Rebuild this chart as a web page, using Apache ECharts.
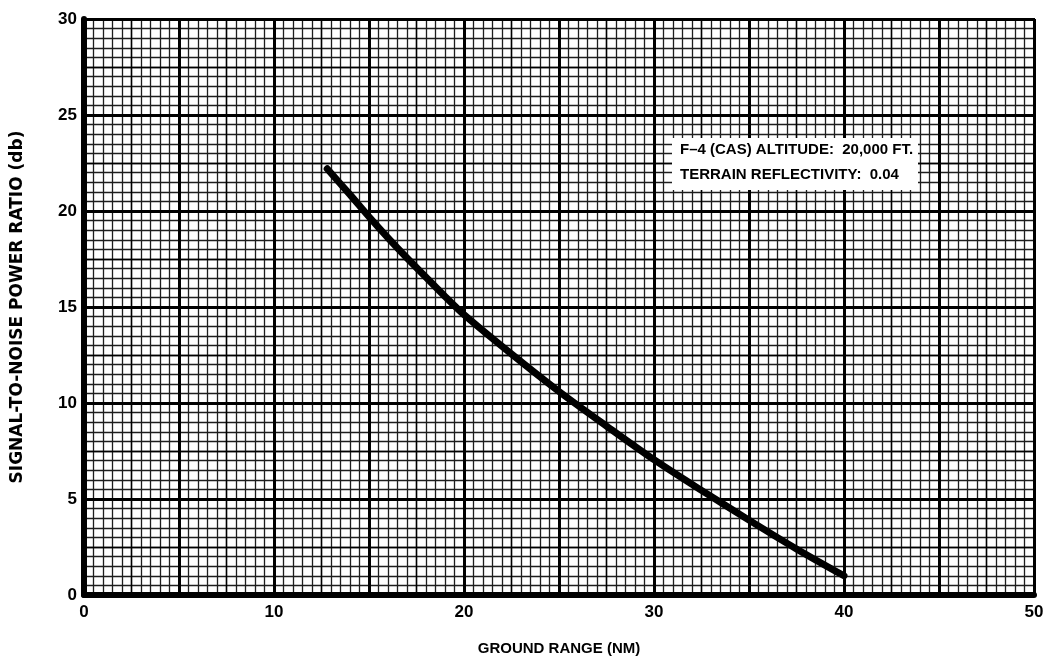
<!DOCTYPE html>
<html>
<head>
<meta charset="utf-8">
<script src="https://cdn.jsdelivr.net/npm/echarts@6/dist/echarts.min.js"></script>
<style>html,body{margin:0;padding:0;background:#fff}#c{width:1057px;height:664px}</style>
</head>
<body>
<div id="c"></div>
<script>
const groundRange = [12.8, 14, 15, 16, 17, 18, 19, 20, 22.5, 25, 27.5, 30, 32.5, 35, 37.5, 40];
const snrDb       = [22.2, 20.85, 19.7, 18.6, 17.55, 16.55, 15.55, 14.6, 12.55, 10.6, 8.8, 7.05, 5.45, 3.9, 2.4, 1.0];
const xLabelTicks = [0, 10, 20, 30, 40, 50];
const yLabelTicks = [0, 5, 10, 15, 20, 25, 30];
const noteLines = ['F\u20134 (CAS) ALTITUDE:  20,000 FT.', 'TERRAIN REFLECTIVITY:  0.04'];

const FONT = 'Liberation Sans';
const chart = echarts.init(document.getElementById('c'), null, {renderer: 'canvas'});

function gridAxis(type, interval, color, width, z) {
  return {
    type: 'value', min: 0, max: type === 'x' ? 50 : 30, interval: interval, z: z,
    position: type === 'x' ? 'bottom' : 'left',
    axisLine: {show: false, onZero: false}, axisTick: {show: false}, axisLabel: {show: false},
    splitLine: {show: true, lineStyle: {color: color, width: width}}
  };
}

const option = {
  backgroundColor: '#fff',
  animation: false,
  grid: {left: 84, right: 23, top: 19, bottom: 69, containLabel: false, outerBoundsMode: 'none',
         show: true, borderColor: '#000', borderWidth: 2},
  xAxis: [
    gridAxis('x', 0.5, '#1e1e1e', 1.3, 0),
    gridAxis('x', 2.5, '#000', 1.4, 1),
    {
      type: 'value', min: 0, max: 50, interval: 5, z: 2, position: 'bottom',
      name: 'GROUND RANGE (NM)', nameLocation: 'middle', nameGap: 46,
      nameTextStyle: {fontFamily: FONT, fontWeight: 'bold', fontSize: 15, color: '#000'},
      axisLine: {show: true, onZero: false, lineStyle: {color: '#000', width: 6}},
      axisTick: {show: false},
      axisLabel: {
        fontFamily: FONT, fontWeight: 'bold', fontSize: 17, color: '#000', margin: 9,
        formatter: v => xLabelTicks.indexOf(v) >= 0 ? String(v) : ''
      },
      splitLine: {show: true, lineStyle: {color: '#000', width: 3}}
    }
  ],
  yAxis: [
    gridAxis('y', 0.5, '#1e1e1e', 1.3, 0),
    gridAxis('y', 2.5, '#000', 1.4, 1),
    {
      type: 'value', min: 0, max: 30, interval: 5, z: 2, position: 'left',
      name: 'SIGNAL-TO-NOISE POWER RATIO (db)', nameLocation: 'middle', nameGap: 58,
      nameTextStyle: {fontFamily: 'DejaVu Sans', fontWeight: 'bold', fontSize: 17, color: '#000'},
      axisLine: {show: true, onZero: false, lineStyle: {color: '#000', width: 6}},
      axisTick: {show: false},
      axisLabel: {
        fontFamily: FONT, fontWeight: 'bold', fontSize: 17, color: '#000', margin: 7,
        formatter: v => yLabelTicks.indexOf(v) >= 0 ? String(v) : ''
      },
      splitLine: {show: true, lineStyle: {color: '#000', width: 3}}
    }
  ],
  series: [{
    type: 'line', xAxisIndex: 2, yAxisIndex: 2, z: 10,
    data: groundRange.map((x, i) => [x, snrDb[i]]),
    smooth: 0.3, showSymbol: false,
    lineStyle: {color: '#000', width: 7, cap: 'round', join: 'round'}
  }],
  graphic: [
    {type: 'rect', left: 672, top: 138, z: 20, shape: {width: 246, height: 52}, style: {fill: '#fff'}},
    {type: 'text', left: 680, top: 142, z: 21, style: {text: noteLines[0], font: 'bold 15px "Liberation Sans"', fill: '#000'}},
    {type: 'text', left: 680, top: 167, z: 21, style: {text: noteLines[1], font: 'bold 15px "Liberation Sans"', fill: '#000'}}
  ]
};
chart.setOption(option);
</script>
</body>
</html>
